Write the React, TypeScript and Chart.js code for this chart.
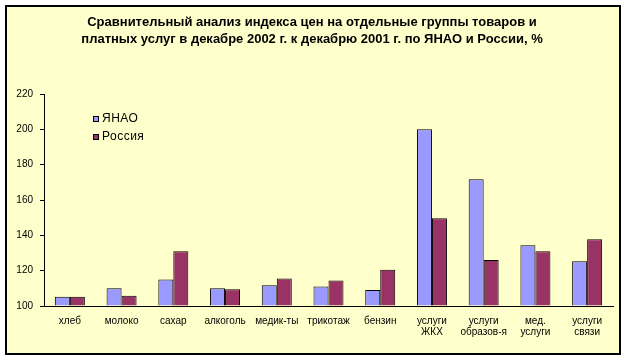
import React, { useEffect, useRef } from "react";
import { Chart, registerables } from "chart.js";

Chart.register(...registerables);

const categories: (string | string[])[] = [
  "хлеб",
  "молоко",
  "сахар",
  "алкоголь",
  "медик-ты",
  "трикотаж",
  "бензин",
  ["услуги", "ЖКХ"],
  ["услуги", "образов-я"],
  ["мед.", "услуги"],
  ["услуги", "связи"],
];
const yanao = [105.3, 110, 115, 110, 111.7, 111, 109, 200, 171.8, 134.4, 125.3];
const russia = [105.3, 105.8, 131, 109.5, 115.5, 114.5, 120.5, 149.7, 126, 131, 137.8];
const titleLines = [
  "Сравнительный анализ индекса цен на отдельные группы товаров и",
  "платных услуг в декабре 2002 г. к декабрю 2001 г. по ЯНАО и России, %",
];
const seriesNames = ["ЯНАО", "Россия"];
const seriesColors = ["#9999FF", "#993366"];

const FONT = "'Liberation Sans', Arial, sans-serif";

const framePlugin = {
  id: "frame",
  beforeDraw(chart: any) {
    const ctx = chart.ctx;
    ctx.save();
    ctx.fillStyle = "#ffffff";
    ctx.fillRect(0, 0, chart.width, chart.height);
    ctx.fillStyle = "#FFFFCC";
    ctx.fillRect(6, 6, 614, 348);
    ctx.strokeStyle = "#000";
    ctx.lineWidth = 2;
    ctx.strokeRect(6, 6, 614, 348);
    ctx.restore();
  },
  afterDraw(chart: any) {
    const ctx = chart.ctx;
    ctx.save();
    ctx.fillStyle = "#000";
    ctx.textAlign = "center";
    ctx.textBaseline = "middle";
    ctx.font = "bold 13px " + FONT;
    ctx.fillText(titleLines[0], 312, 22);
    ctx.fillText(titleLines[1], 312, 39);
    // legend
    ctx.textAlign = "left";
    ctx.font = "12px " + FONT;
    (ctx as any).letterSpacing = "0.5px";
    const ys = [119, 137];
    seriesNames.forEach((n, i) => {
      ctx.fillStyle = seriesColors[i];
      ctx.fillRect(93.5, ys[i] - 2.5, 5, 5);
      ctx.strokeStyle = "#000";
      ctx.lineWidth = 1;
      ctx.strokeRect(93.5, ys[i] - 2.5, 5, 5);
      ctx.fillStyle = "#000";
      ctx.fillText(n, 102, ys[i]);
    });
    ctx.restore();
  },
};

export default function App() {
  const ref = useRef<HTMLCanvasElement>(null);
  useEffect(() => {
    const chart = new Chart(ref.current!, {
      type: "bar",
      data: {
        labels: categories as any,
        datasets: [
          {
            label: seriesNames[0],
            data: yanao,
            backgroundColor: seriesColors[0],
            borderColor: "#000",
            borderWidth: 1,
            base: 100,
          },
          {
            label: seriesNames[1],
            data: russia,
            backgroundColor: seriesColors[1],
            borderColor: "#000",
            borderWidth: 1,
            base: 100,
          },
        ],
      },
      options: {
        animation: false,
        responsive: false,
        devicePixelRatio: 1,
        layout: { padding: { left: 0, right: 12, top: 94, bottom: 0 } },
        plugins: {
          legend: { display: false },
          title: { display: false },
          tooltip: { enabled: false },
        },
        datasets: { bar: { categoryPercentage: 0.58, barPercentage: 1 } },
        scales: {
          x: {
            grid: { display: false },
            border: { display: true, color: "#000", width: 1 },
            ticks: {
              color: "#000",
              font: { family: FONT, size: 10, lineHeight: 1.15 },
              padding: 1,
              maxRotation: 0,
              autoSkip: false,
            },
            afterFit: (s: any) => {
              s.height = 55;
            },
          },
          y: {
            min: 100,
            max: 220,
            grid: {
              drawOnChartArea: false,
              drawTicks: true,
              tickLength: 4,
              color: "#000",
            },
            border: { display: true, color: "#000", width: 1 },
            ticks: {
              stepSize: 20,
              color: "#000",
              font: { family: FONT, size: 10 },
              padding: 7,
            },
            afterFit: (s: any) => {
              s.width = 44;
            },
          },
        },
      },
      plugins: [framePlugin],
    });
    return () => chart.destroy();
  }, []);
  return (
    <div style={{ position: "absolute", left: 0, top: 0, width: 625, height: 361 }}>
      <canvas ref={ref} width={625} height={361} style={{ display: "block" }} />
    </div>
  );
}
